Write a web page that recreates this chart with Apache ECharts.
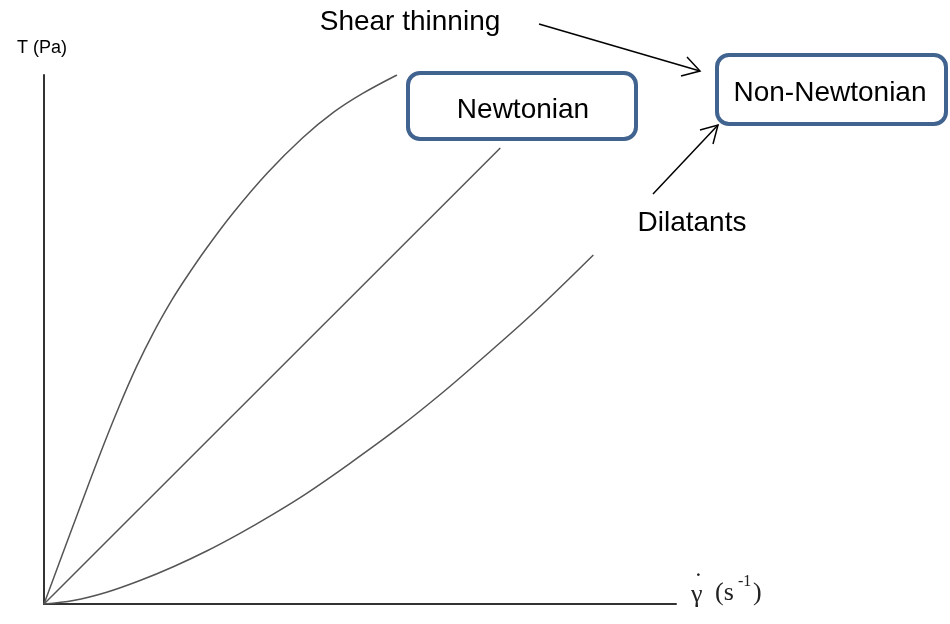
<html>
<head>
<meta http-equiv="content-type" content="text/html; charset=utf-8">
<script src="https://cdn.jsdelivr.net/npm/echarts@6/dist/echarts.min.js"></script>
<style>
	html, body { margin: 0; padding: 0; background: #ffffff; }
	#chart { width: 950px; height: 624px; }
</style>
<title>Rheology</title>
</head>
<body>
<div id="chart"></div>
<script type="text/javascript">
///////////////////////////////////////////////////////////////////////////////
// data (arbitrary units, shear rate vs. shear stress)
var thinning_x = [0, 2.39, 4.54, 6.91, 9.32, 11.87, 14.64, 17.26, 20.24, 22.25, 25.51, 29.89, 35.30, 40.89, 45.89, 50.43, 55.85];
var thinning_y = [0, 7.69, 14.61, 22.17, 29.74, 37.30, 44.86, 51.17, 57.47, 61.25, 66.92, 73.86, 81.42, 88.09, 93.01, 96.52, 100];

var newton_x = [0, 72.2];
var newton_y = [0, 86.2];

var dilatant_x = [0, 4.64, 9.92, 15.19, 20.46, 25.74, 31.01, 36.28, 41.57, 48.42, 56.33, 63.18, 68.46, 77.42, 86.92];
var dilatant_y = [0, 0.66, 2.23, 4.44, 7.05, 10.02, 13.36, 17.0, 20.93, 26.60, 33.52, 40.08, 45.5, 55.0, 65.97];

var axis_max = 100;

///////////////////////////////////////////////////////////////////////////////
function pairs(xs, ys) {
	var d = [];
	for (var i = 0; i < xs.length; i++) d.push([xs[i], ys[i]]);
	return d;
}

function curve(data, smooth) {
	return {
		type: 'line',
		data: data,
		smooth: smooth,
		symbol: 'none',
		silent: true,
		lineStyle: { color: '#555555', width: 1.5 },
	};
}

var sans = '"Liberation Sans", Arial, sans-serif';
var serif = '"Liberation Serif", "Times New Roman", serif';
var box_col = '#41638f';

function label(x, y, text, size) {
	return {
		type: 'text', x: x, y: y,
		style: { text: text, font: size + 'px ' + sans, fill: '#000', align: 'center', verticalAlign: 'middle' }
	};
}

function box(x, y, w, h) {
	return {
		type: 'rect',
		shape: { x: x, y: y, width: w, height: h, r: 12 },
		style: { fill: '#fff', stroke: box_col, lineWidth: 4 }
	};
}

function arrow(pts) {
	return { type: 'polyline', shape: { points: pts }, style: { stroke: '#000', lineWidth: 1.5, fill: null } };
}

function xlab(x, y, text, size) {
	return { type: 'text', x: x, y: y, style: { text: text, font: size + 'px ' + serif, fill: '#222', verticalAlign: 'middle' } };
}

var chart = echarts.init(document.getElementById('chart'), null, { renderer: 'canvas' });

var option = {
	animation: false,
	backgroundColor: '#ffffff',
	grid: { left: 44, right: 274, top: 75, bottom: 20 },
	xAxis: {
		type: 'value', min: 0, max: axis_max,
		axisLine: { show: true, lineStyle: { color: '#333', width: 2 } },
		axisTick: { show: false }, axisLabel: { show: false }, splitLine: { show: false }
	},
	yAxis: {
		type: 'value', min: 0, max: axis_max,
		axisLine: { show: true, lineStyle: { color: '#333', width: 2 } },
		axisTick: { show: false }, axisLabel: { show: false }, splitLine: { show: false }
	},
	series: [
		curve(pairs(thinning_x, thinning_y), 0.35),
		curve(pairs(newton_x, newton_y), false),
		curve(pairs(dilatant_x, dilatant_y), 0.35),
	],
	graphic: [
		label(42, 48, 'T (Pa)', 18),
		label(410, 22, 'Shear thinning', 28),
		box(408, 73, 228, 66),
		label(523, 110, 'Newtonian', 28),
		box(717, 55, 229, 69),
		label(830, 93, 'Non-Newtonian', 28),
		label(692, 223, 'Dilatants', 28),
		// shear thinning arrow
		arrow([[539, 24], [700, 71]]),
		arrow([[687, 57], [700, 71], [681, 76]]),
		// dilatants arrow
		arrow([[653, 194], [718, 125]]),
		arrow([[700, 130], [718, 125], [713, 144]]),
		// x axis label: shear rate
		xlab(691, 595, 'γ', 26),
		xlab(694, 583, '˙', 26),
		xlab(715, 593, '(s', 26),
		xlab(738, 582, '-1', 16),
		xlab(753, 593, ')', 26),
	]
};

chart.setOption(option);
</script>
</body>
</html>
